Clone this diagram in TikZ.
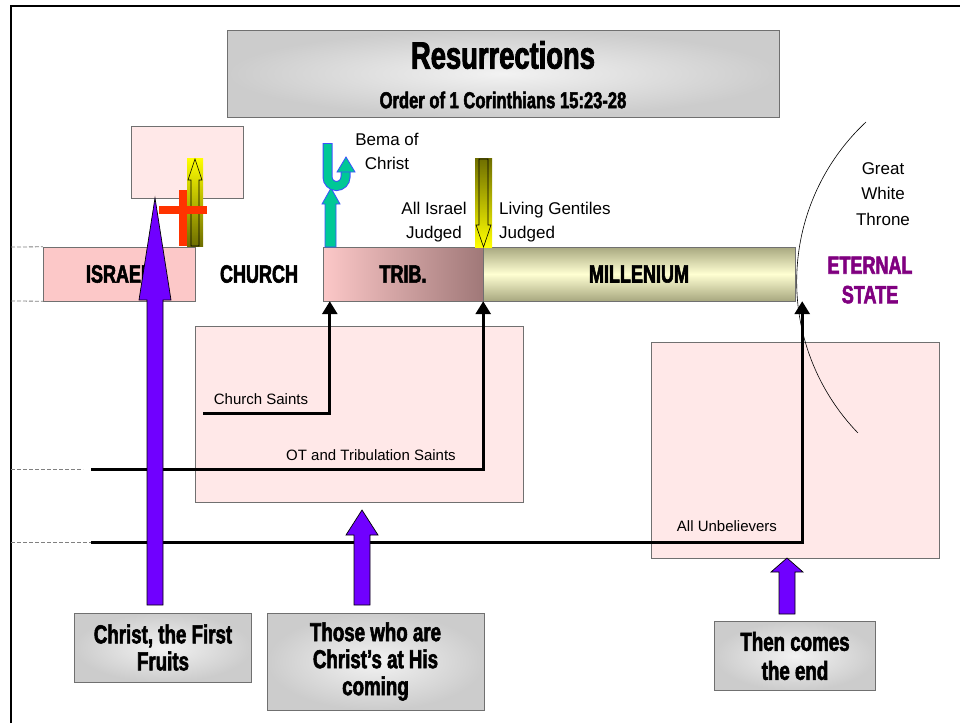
\documentclass[tikz,border=0pt]{standalone}
\usepackage{fontspec}
\setmainfont{Liberation Sans}
\newfontfamily\imp{Liberation Sans}[FakeStretch=0.72,BoldFeatures={FakeBold=2.2}]
\usetikzlibrary{arrows.meta}
\definecolor{pinkA}{RGB}{255,232,232}
\definecolor{pinkB}{RGB}{252,200,200}
\definecolor{tribR}{RGB}{160,120,120}
\definecolor{millL}{RGB}{255,255,210}
\definecolor{millD}{RGB}{168,168,128}
\definecolor{purp}{RGB}{112,0,255}
\definecolor{tealA}{RGB}{0,200,150}
\definecolor{bluO}{RGB}{60,80,255}
\definecolor{oliveA}{RGB}{110,110,0}
\definecolor{yelA}{RGB}{255,255,0}
\definecolor{crossred}{RGB}{255,51,0}
\definecolor{eternal}{RGB}{128,0,128}
\definecolor{boxgray}{RGB}{112,112,112}
\tikzset{
  pinkbox/.style={draw=boxgray, fill=pinkA, inner sep=0pt},
  barbox/.style={draw=boxgray, inner sep=0pt, minimum height=54pt},
  graybox/.style={draw=boxgray, inner color=gray!10, outer color=gray!40, inner sep=0pt, align=center},
  bigtxt/.style={inner sep=0pt, font=\imp\bfseries\fontsize{25}{30}\selectfont},
  lbl/.style={inner sep=0pt, align=center, font=\fontsize{17}{24}\selectfont},
  smalllbl/.style={inner sep=0pt, font=\fontsize{15}{18}\selectfont},
  conn/.style={line width=3pt, -{Triangle[width=15pt,length=13pt]}},
  dashln/.style={draw=gray, line width=0.8pt, dash pattern=on 4pt off 2pt},
  purparrow/.style={fill=purp, draw=black, line width=0.7pt, line join=miter},
  yarrow/.style={draw=black, line width=0.6pt}
}
\begin{document}
\begin{tikzpicture}[x=1pt,y=-1pt]
\useasboundingbox (0,0) rectangle (969,723);
% frame
\draw[line width=2pt] (11,723) -- (11,6) -- (960,6);

% title
\node[graybox, minimum width=552pt, minimum height=87pt] (title) at (503,73.5) {};
\node[inner sep=0pt, font=\imp\bfseries\fontsize{38}{40}\selectfont] (titleA) at (503,55) {Resurrections};
\node[inner sep=0pt, font=\imp\bfseries\fontsize{23}{26}\selectfont] (titleB) at (503,100) {Order of 1 Corinthians 15:23-28};

% pink boxes
\node[pinkbox, minimum width=328pt, minimum height=176pt] (mid) at (359,414) {};
\node[pinkbox, minimum width=288pt, minimum height=216pt] (rbox) at (795,450) {};
\node[pinkbox, minimum width=112pt, minimum height=72pt] (topbox) at (187,162) {};

% time bars
\node[barbox, fill=pinkB, minimum width=152pt, font=\imp\bfseries\fontsize{25}{30}\selectfont] (israel) at (119,274) {ISRAEL};
\node[bigtxt] (church) at (259,274) {CHURCH};
\node[barbox, left color=pinkB, right color=tribR, minimum width=160pt, font=\imp\bfseries\fontsize{25}{30}\selectfont] (trib) at (403,274) {TRIB.};
\node[barbox, top color=millD, bottom color=millD, middle color=millL, minimum width=312pt, font=\imp\bfseries\fontsize{25}{30}\selectfont] (mill) at (639,274) {MILLENIUM};

% dashed guide lines
\coordinate (d1) at (11,247);
\coordinate (d2) at (11,301);
\coordinate (d3) at (11,469);
\coordinate (d4) at (11,542);
\coordinate (d3e) at (83,469);
\coordinate (d4e) at (91,542);
\draw[dashln] (d1) -- (israel.north west);
\draw[dashln] (d2) -- (israel.south west);
\draw[dashln] (d3) -- (d3e);
\draw[dashln] (d4) -- (d4e);

% great white throne arc
\draw[line width=0.6pt] (866,122) arc[start angle=-133, end angle=-224, radius=218];

% connectors
\coordinate (cs0) at (203,413);
\coordinate (ot0) at (91,469);
\coordinate (ub0) at (91,542);
\draw[conn] (cs0) -| ([xshift=7pt]trib.south west);
\draw[conn] (ot0) -| (trib.south east);
\draw[conn] (ub0) -| ([xshift=7pt]mill.south east);

% labels
\node[smalllbl] (cst) at (261,399) {Church Saints};
\node[smalllbl] (ott) at (371,455) {OT and Tribulation Saints};
\node[smalllbl] (aub) at (727,526) {All Unbelievers};
\node[lbl] (bema) at (387,151) {Bema of\\Christ};
\node[lbl] (ai) at (434,222) {All Israel\\Judged};
\node[lbl, anchor=west, align=left] (lg) at (499,222) {Living Gentiles\\Judged};
\node[lbl, font=\fontsize{17}{25.5}\selectfont] (gwt) at (883,194) {Great\\White\\Throne};
\node[inner sep=0pt, align=center, text=eternal, font=\imp\bfseries\fontsize{25}{29.5}\selectfont] (es) at (870,280) {ETERNAL\\STATE};

% yellow up arrow
\shade[top color=yelA, bottom color=oliveA] (187,158) rectangle (203,246);
\draw[yarrow] (195,159) -- (202,180) -- (199,180) -- (199,246) -- (191,246) -- (191,180) -- (188,180) -- cycle;
% red cross
\fill[crossred] (179,190) rectangle (187,246);
\fill[crossred] (159,206) rectangle (207,214);

% yellow down arrow
\shade[top color=oliveA, bottom color=yelA] (475,158) rectangle (492,247);
\draw[yarrow] (479,159) -- (488,159) -- (488,225) -- (491,225) -- (483.5,247) -- (476,225) -- (479,225) -- cycle;

% teal arrows
\filldraw[fill=tealA, draw=bluO, line width=0.8pt] (331,188) -- (340,204) -- (336,204) -- (336,247) -- (325,247) -- (325,204) -- (322,204) -- cycle;
\draw[bluO, line width=10pt] (327.5,143) -- (327.5,177) arc[start angle=180, end angle=0, radius=9] -- (345.5,171);
\draw[tealA, line width=8pt] (327.5,144) -- (327.5,177) arc[start angle=180, end angle=0, radius=9] -- (345.5,170);
\filldraw[fill=tealA, draw=bluO, line width=0.8pt] (346,157) -- (355,172) -- (337,172) -- cycle;

% purple arrows
\draw[purparrow] (155,198) -- (171,300) -- (163,300) -- (163,605) -- (147,605) -- (147,300) -- (139,300) -- cycle;
\draw[purparrow] (362,510) -- (378,535) -- (370,535) -- (370,605) -- (354,605) -- (354,535) -- (346,535) -- cycle;
\draw[purparrow] (787,558) -- (803,572) -- (795,572) -- (795,614) -- (779,614) -- (779,572) -- (771,572) -- cycle;

% bottom boxes
\node[graybox, minimum width=177pt, minimum height=69pt, font=\imp\bfseries\fontsize{26}{27}\selectfont] (ff) at (163,647.5) {Christ, the First\\Fruits};
\node[graybox, minimum width=217pt, minimum height=97pt, font=\imp\bfseries\fontsize{26}{27}\selectfont] (tw) at (375.5,661.5) {Those who are\\Christ’s at His\\coming};
\node[graybox, minimum width=161pt, minimum height=69pt, font=\imp\bfseries\fontsize{26}{29}\selectfont] (ce) at (795,656) {Then comes\\the end};
\end{tikzpicture}
\end{document}
